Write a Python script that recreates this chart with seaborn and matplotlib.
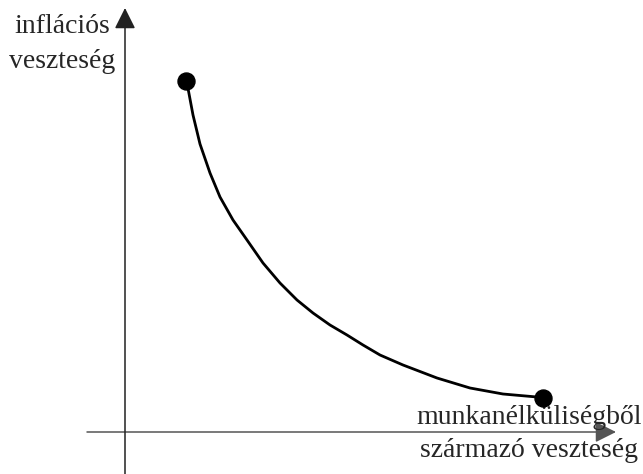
import pandas as pd
import seaborn as sns
import matplotlib.pyplot as plt

# veszteségi görbe (munkanélküliség vs infláció), origó = tengelyek metszéspontja
munkanelkuli = [62, 68, 75, 85, 95, 108, 122, 138, 155, 172, 188, 205, 222, 238,
                255, 278, 312, 345, 378, 412, 418]
inflacio = [349, 317, 288, 259, 235, 212, 192, 169, 149, 132, 119, 107, 97, 87,
            77, 67, 54, 44, 38, 35, 34]

# végpontok
pont_x = [61, 418]
pont_y = [351, 34]

gorbe = pd.DataFrame({"x": munkanelkuli, "y": inflacio})
pontok = pd.DataFrame({"x": pont_x, "y": pont_y})

sns.set_style("white")
plt.rcParams["font.family"] = ["Liberation Serif", "DejaVu Serif"]

fig = plt.figure(figsize=(6.43, 4.74), dpi=100)
ax = fig.add_axes([0, 0, 1, 1])
ax.set_xlim(-125, 518)
ax.set_ylim(-42, 432)
ax.axis("off")

# tengelyek nyíllal
ax.annotate("", xy=(491, 0), xytext=(-38, 0),
            arrowprops=dict(arrowstyle="-|>", color="#555555", lw=1.1,
                            mutation_scale=32, shrinkA=0, shrinkB=0))
ax.annotate("", xy=(0, 424), xytext=(0, -42),
            arrowprops=dict(arrowstyle="-|>", color="#222222", lw=1.1,
                            mutation_scale=32, shrinkA=0, shrinkB=0))

sns.lineplot(data=gorbe, x="x", y="y", sort=False, color="black", lw=2, ax=ax)
sns.scatterplot(data=pontok, x="x", y="y", color="black", s=150, zorder=5,
                edgecolor="black", ax=ax)

ax.text(-63, 388, "inflációs\nveszteség", ha="center", va="center",
        fontsize=20, linespacing=1.5)
ax.text(404, -2, "munkanélküliségből\nszármazó veszteség", ha="center", va="center",
        fontsize=20, linespacing=1.4)

fig.savefig("out.png", dpi=100)
